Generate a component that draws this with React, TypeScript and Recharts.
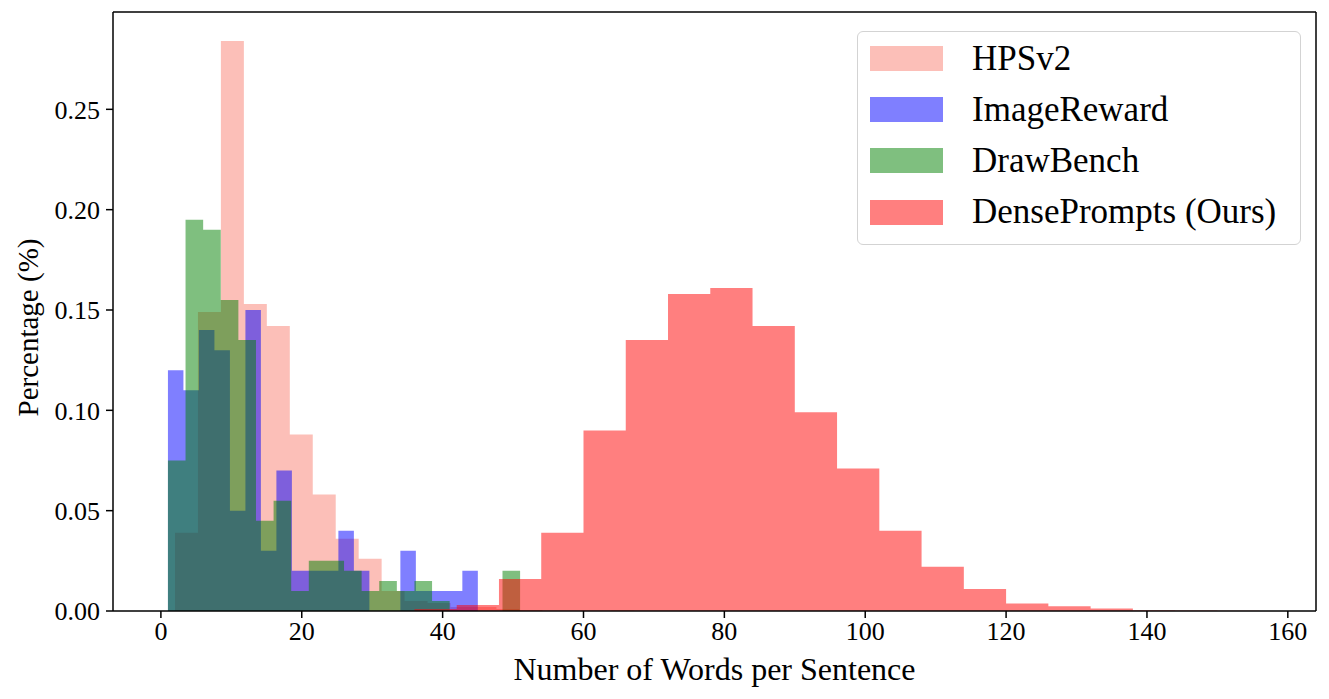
import React from "react"
import { ComposedChart, Area, XAxis, YAxis, Legend, ReferenceLine } from "recharts"

// histograms: plt.hist(bins=20), each series with its own [min, max] range
const BIN_COUNT = 20
const hpsRange = [2, 67.2]
const imageRewardRange = [1, 45]
const drawBenchRange = [1, 51]
const denseRange = [36, 156]

// fraction of prompts per bin
const hpsValues = [
  0.039, 0.149, 0.284, 0.153, 0.142, 0.088, 0.058, 0.036, 0.026, 0.01,
  0.005, 0.004, 0.002, 0.002, 0.001, 0.0005, 0, 0, 0, 0.0003,
]
const imageRewardValues = [
  0.12, 0.11, 0.14, 0.13, 0.05, 0.15, 0.03, 0.07, 0.02, 0.02,
  0.02, 0.04, 0.02, 0, 0, 0.03, 0.01, 0.01, 0.01, 0.02,
]
const drawBenchValues = [
  0.075, 0.195, 0.19, 0.155, 0.135, 0.045, 0.055, 0.01, 0.025, 0.025,
  0.02, 0.01, 0.015, 0.01, 0.015, 0.005, 0, 0, 0, 0.02,
]
const denseValues = [
  0.001, 0.003, 0.016, 0.039, 0.09, 0.135, 0.158, 0.161, 0.142, 0.099,
  0.071, 0.04, 0.022, 0.011, 0.0037, 0.0024, 0.0012, 0.0004, 0.0002, 0.0001,
]

const xTicks = [0, 20, 40, 60, 80, 100, 120, 140, 160]
const yTicks = [0, 0.05, 0.1, 0.15, 0.2, 0.25]
const X_DOMAIN: [number, number] = [-6.8, 164]
const Y_MAX = 0.2985

const FONT = "'Liberation Serif', 'Times New Roman', serif"

// bin edges -> step points (last edge closes the outline)
function toSteps(range: number[], values: number[]) {
  const w = (range[1] - range[0]) / BIN_COUNT
  const pts = values.map((v, i) => ({ x: range[0] + i * w, y: v }))
  pts.push({ x: range[1], y: 0 })
  return pts
}

const series = [
  { name: "HPSv2", color: "#FA8072", data: toSteps(hpsRange, hpsValues) },
  { name: "ImageReward", color: "#0000FF", data: toSteps(imageRewardRange, imageRewardValues) },
  { name: "DrawBench", color: "#008000", data: toSteps(drawBenchRange, drawBenchValues) },
  { name: "DensePrompts (Ours)", color: "#FF0000", data: toSteps(denseRange, denseValues) },
]

function LegendBox() {
  return (
    <div
      style={{
        position: "relative",
        boxSizing: "border-box",
        width: 444,
        height: 214,
        border: "1.5px solid #d3d3d3",
        borderRadius: 6,
        background: "rgba(255,255,255,0.8)",
        fontFamily: FONT,
        fontSize: 35,
        color: "#000",
      }}
    >
      {series.map((s, i) => (
        <div
          key={s.name}
          style={{
            position: "absolute",
            left: 0,
            top: 1 + i * 51.2,
            height: 51.2,
            display: "flex",
            alignItems: "center",
            whiteSpace: "nowrap",
          }}
        >
          <span
            style={{
              display: "inline-block",
              marginLeft: 12,
              width: 73,
              height: 25,
              background: s.color,
              opacity: 0.5,
            }}
          />
          <span style={{ marginLeft: 29 }}>{s.name}</span>
        </div>
      ))}
    </div>
  )
}

export default function App() {
  const tick = { fontSize: 26, fill: "#000", fontFamily: FONT }
  return (
    <div style={{ position: "absolute", left: 0, top: 0, background: "#fff" }}>
      <ComposedChart width={1329} height={699} margin={{ top: 12, right: 13, left: 0, bottom: 0 }}>
        <XAxis
          type="number"
          dataKey="x"
          domain={X_DOMAIN}
          ticks={xTicks}
          tick={tick}
          tickSize={7}
          tickMargin={4}
          height={88}
          stroke="#000"
          axisLine={{ stroke: "#000", strokeWidth: 1.5 }}
          tickLine={{ stroke: "#000", strokeWidth: 1.5 }}
          label={{
            value: "Number of Words per Sentence",
            position: "center",
            dy: 14,
            style: { fontSize: 32, fill: "#000", fontFamily: FONT },
          }}
        />
        <YAxis
          type="number"
          domain={[0, Y_MAX]}
          ticks={yTicks}
          tickFormatter={(v) => Number(v).toFixed(2)}
          tick={tick}
          tickSize={7}
          tickMargin={6}
          width={113}
          axisLine={{ stroke: "#000", strokeWidth: 1.5 }}
          tickLine={{ stroke: "#000", strokeWidth: 1.5 }}
          label={{
            value: "Percentage (%)",
            angle: -90,
            position: "center",
            dx: -29,
            dy: 16,
            style: { fontSize: 29, fill: "#000", fontFamily: FONT },
          }}
        />
        {series.map((s) => (
          <Area
            key={s.name}
            data={s.data}
            dataKey="y"
            name={s.name}
            type="stepAfter"
            fill={s.color}
            fillOpacity={0.5}
            stroke="none"
            dot={false}
            activeDot={false}
            isAnimationActive={false}
          />
        ))}
        <ReferenceLine y={Y_MAX} stroke="#000" strokeWidth={1.5} />
        <ReferenceLine x={X_DOMAIN[1]} stroke="#000" strokeWidth={1.5} />
        <Legend
          layout="horizontal"
          verticalAlign="middle"
          align="center"
          content={() => <LegendBox />}
          wrapperStyle={{ left: 857, top: 31, width: 444, height: 214 }}
        />
      </ComposedChart>
    </div>
  )
}
